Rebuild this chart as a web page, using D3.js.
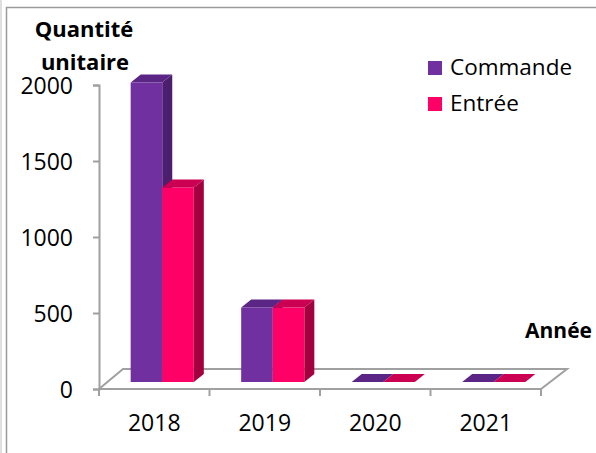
<!DOCTYPE html>
<html>
<head>
<meta charset="utf-8">
<script src="https://cdn.jsdelivr.net/npm/d3@7"></script>
<style>
  html, body { margin: 0; padding: 0; background: #fff; }
  svg { display: block; font-family: "Open Sans", sans-serif; }
</style>
</head>
<body>
<svg id="chart" width="596" height="453"></svg>
<script>
// Quantities ordered vs. received, per year
const years = ["2018", "2019", "2020", "2021"];
const commande = [1970, 490, 0, 0];
const entree = [1280, 490, 0, 0];
const seriesNames = ["Commande", "Entrée"];
const yTicks = [0, 500, 1000, 1500, 2000];

const front = { purple: "#7030A0", pink: "#FF0066" };
const topC = { purple: "#5B2585", pink: "#CC0052" };
const sideC = { purple: "#4B1E6E", pink: "#A3003F" };
const seriesColor = ["purple", "pink"];

const svg = d3.select("#chart");

// frame lines
svg.append("line").attr("x1", 1).attr("x2", 1).attr("y1", 0).attr("y2", 453)
  .attr("stroke", "#d4d4d4").attr("stroke-width", 1.5);
svg.append("line").attr("x1", 6.5).attr("x2", 6.5).attr("y1", 7).attr("y2", 453)
  .attr("stroke", "#9a9a9a").attr("stroke-width", 1.5);
svg.append("line").attr("x1", 6).attr("x2", 596).attr("y1", 7.5).attr("y2", 7.5)
  .attr("stroke", "#9a9a9a").attr("stroke-width", 1.5);

const x = d3.scaleBand().domain(years).range([99, 541]).paddingInner(0).paddingOuter(0);
const y = d3.scaleLinear().domain([0, 2000]).range([389, 85]);
const xs = d3.scaleBand().domain(seriesNames).range([0, x.bandwidth()]).paddingInner(0).paddingOuter(0.75);

// oblique depth offsets
const floorDX = 26, floorDY = -20;
const planeDX = 8, planeDY = -7;   // bar front plane inside the floor
const barDX = 10, barDY = -8;      // bar depth

const axisColor = "#a0a0a0";

// floor outline
const x0 = x.range()[0], x1 = x.range()[1], y0 = y(0);
svg.append("path")
  .attr("d", `M${x0},${y0} L${x1},${y0} L${x1 + floorDX},${y0 + floorDY} L${x0 + floorDX - 2},${y0 + floorDY} Z`)
  .attr("fill", "none").attr("stroke", axisColor).attr("stroke-width", 2).attr("stroke-linejoin", "miter");

// y axis
const yAxis = d3.axisLeft(y).tickValues(yTicks).tickSize(6).tickPadding(20).tickFormat(d3.format("d"));
const gy = svg.append("g").attr("transform", `translate(${x0},0)`).call(yAxis);
gy.select(".domain").attr("stroke", axisColor).attr("stroke-width", 2);
gy.selectAll(".tick line").attr("stroke", axisColor).attr("stroke-width", 2);
gy.selectAll(".tick text").attr("font-size", 23).attr("font-family", "Open Sans, sans-serif")
  .attr("fill", "#000").attr("dy", "0.38em");

// x axis ticks at category boundaries
const bounds = years.map(d => x(d)).concat([x1]);
svg.append("g").selectAll("line").data(bounds).join("line")
  .attr("x1", d => d).attr("x2", d => d).attr("y1", y0).attr("y2", y0 + 7)
  .attr("stroke", axisColor).attr("stroke-width", 2);
svg.append("g").selectAll("text").data(years).join("text")
  .attr("x", d => x(d) + x.bandwidth() / 2).attr("y", y0 + 42)
  .attr("text-anchor", "middle").attr("font-size", 23).attr("fill", "#000")
  .text(d => d);

// bars
const rows = [];
years.forEach((yr, i) => {
  rows.push({ year: yr, s: 0, v: commande[i] });
  rows.push({ year: yr, s: 1, v: entree[i] });
});
const gb = svg.append("g");
rows.forEach(r => {
  const c = seriesColor[r.s];
  const bx0 = x(r.year) + xs(seriesNames[r.s]) + planeDX;
  const bx1 = bx0 + xs.bandwidth();
  const yb = y(0) + planeDY;
  const yt = y(r.v) + planeDY;
  // side
  gb.append("path")
    .attr("d", `M${bx1},${yt} L${bx1 + barDX},${yt + barDY} L${bx1 + barDX},${yb + barDY} L${bx1},${yb} Z`)
    .attr("fill", sideC[c]);
  // front
  gb.append("rect").attr("x", bx0).attr("y", yt).attr("width", bx1 - bx0).attr("height", yb - yt)
    .attr("fill", front[c]);
  // top
  gb.append("path")
    .attr("d", `M${bx0},${yt} L${bx1},${yt} L${bx1 + barDX},${yt + barDY} L${bx0 + barDX},${yt + barDY} Z`)
    .attr("fill", topC[c]);
});

// axis titles
const title = svg.append("text").attr("font-weight", "bold").attr("font-size", 22)
  .attr("text-anchor", "middle").attr("fill", "#000");
title.append("tspan").attr("x", 84).attr("y", 37).text("Quantité");
title.append("tspan").attr("x", 85).attr("y", 70).text("unitaire");
svg.append("text").attr("x", 592).attr("y", 338).attr("text-anchor", "end")
  .attr("font-weight", "bold").attr("font-size", 21).attr("fill", "#000").text("Année");

// legend
const legend = svg.append("g").attr("transform", "translate(428,61)");
seriesNames.forEach((name, i) => {
  const g = legend.append("g").attr("transform", `translate(0,${i * 36})`);
  g.append("rect").attr("width", 14).attr("height", 14).attr("fill", front[seriesColor[i]]);
  g.append("text").attr("x", 22).attr("y", 14).attr("font-size", 22.5).attr("fill", "#000").text(name);
});
</script>
</body>
</html>
